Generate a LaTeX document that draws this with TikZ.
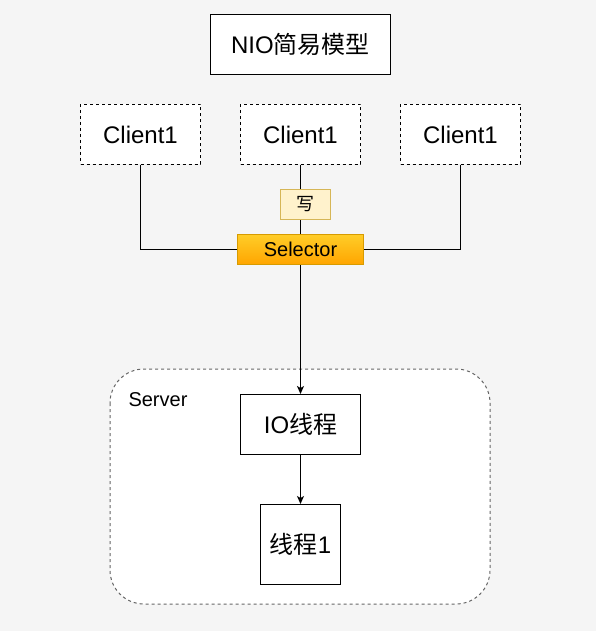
\documentclass[tikz,border=0pt]{standalone}
\usepackage{fontspec}
\setmainfont{Liberation Sans}
\newfontfamily\cjk{Noto Sans CJK SC}
\usetikzlibrary{arrows.meta,backgrounds}
\definecolor{bg}{HTML}{F5F5F5}
\definecolor{notefill}{HTML}{FFF2CC}
\definecolor{notedraw}{HTML}{D6B656}
\definecolor{selTop}{HTML}{FFCD28}
\definecolor{selBot}{HTML}{FFA500}
\definecolor{seldraw}{HTML}{D79B00}
\definecolor{srvdraw}{HTML}{666666}
\newcommand{\fs}[1]{\fontsize{#1}{#1}\selectfont}
\begin{document}
\begin{tikzpicture}[x=1pt,y=-1pt,
  box/.style={draw=black,fill=white,line width=1pt,inner sep=0pt,anchor=north west},
  clientbox/.style={box,dashed,dash pattern=on 3pt off 3pt,minimum width=120pt,minimum height=60pt,font=\fs{24}},
  conn/.style={line width=1pt,draw=black},
  arr/.style={conn,-{Stealth[length=8pt,width=7pt,inset=2pt]}}
]
\useasboundingbox (0,0) rectangle (596,631);
% server container
\draw[srvdraw,fill=white,line width=1pt,dash pattern=on 3pt off 3pt,rounded corners=34pt] (110,369) rectangle (490,604);
\node[anchor=west,font=\fs{20}] (srv) at (125,400) {Server};
% title
\node[box,minimum width=180pt,minimum height=60pt,font=\fs{24}] (title) at (210,14) {NIO{\cjk 简易模型}};
% clients
\node[clientbox] (c1) at (80,104) {Client1};
\node[clientbox] (c2) at (240,104) {Client1};
\node[clientbox] (c3) at (400,104) {Client1};
% note
\node[box,draw=notedraw,fill=notefill,minimum width=50pt,minimum height=30pt,font=\fs{18}\cjk] (w) at (280,189) {写};
% selector
\node[box,draw=seldraw,top color=selTop,bottom color=selBot,minimum width=126pt,minimum height=30pt,font=\fs{20}] (sel) at (237,234) {Selector};
% IO thread
\node[box,minimum width=120pt,minimum height=60pt,font=\fs{24}] (io) at (240,394) {IO{\cjk 线程}};
\node[box,minimum width=80pt,minimum height=80pt,font=\fs{24}] (t1) at (260,504) {{\cjk 线程}1};
% connectors
\begin{pgfonlayer}{background}
\fill[bg] (0,0) rectangle (596,631);
\draw[conn] (c1.south) |- (sel.west);
\draw[conn] (c3.south) |- (sel.east);
\draw[conn] (c2.south) -- (c2.south |- sel.north);
\end{pgfonlayer}
\draw[arr] (sel.south) -- (io.north);
\draw[arr] (io.south) -- (t1.north);
\end{tikzpicture}
\end{document}
